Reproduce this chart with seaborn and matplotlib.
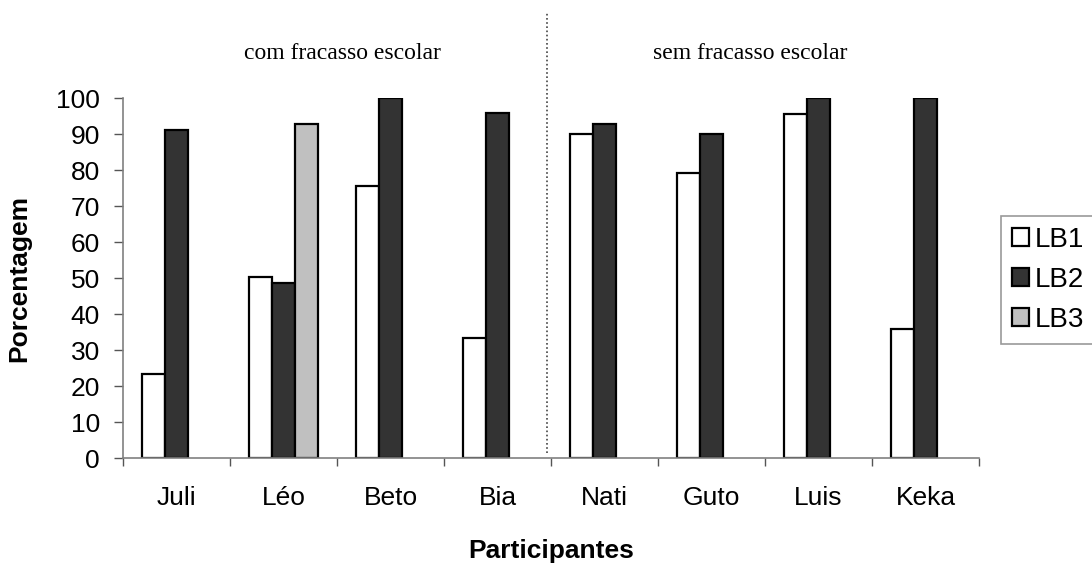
import numpy as np
import pandas as pd
import matplotlib
matplotlib.use("Agg")
import matplotlib.pyplot as plt
from matplotlib.patches import Patch
import seaborn as sns

participants = ["Juli", "Léo", "Beto", "Bia", "Nati", "Guto", "Luis", "Keka"]
lb1 = [23.3, 50.4, 75.7, 33.3, 90.0, 79.1, 95.7, 35.9]
lb2 = [91.3, 48.7, 100.0, 96.0, 92.8, 90.0, 100.0, 100.0]
lb3 = [np.nan, 92.8, np.nan, np.nan, np.nan, np.nan, np.nan, np.nan]
series_names = ["LB1", "LB2", "LB3"]
series_colors = ["#FFFFFF", "#333333", "#C0C0C0"]
group_labels = ["com fracasso escolar", "sem fracasso escolar"]
y_ticks = list(range(0, 101, 10))

rows = []
for name, vals in zip(series_names, [lb1, lb2, lb3]):
    for p, v in zip(participants, vals):
        rows.append({"Participante": p, "Serie": name, "Valor": v})
df = pd.DataFrame(rows)

sns.set_theme(style="white")
plt.rcParams["font.family"] = ["Liberation Sans", "DejaVu Sans"]
plt.rcParams["text.color"] = "black"
plt.rcParams["axes.labelcolor"] = "black"
plt.rcParams["xtick.color"] = "black"
plt.rcParams["ytick.color"] = "black"

fig = plt.figure(figsize=(10.92, 5.65), dpi=100)
ax = fig.add_axes([123/1092, 1-458/565, (979-123)/1092, (458-98.3)/565])

sns.barplot(data=df, x="Participante", y="Valor", hue="Serie",
            order=participants, hue_order=series_names,
            palette=series_colors, width=0.654, edgecolor="black",
            linewidth=1.6, ax=ax, legend=False, saturation=1, errorbar=None)

ax.set_xlim(-0.5, len(participants) - 0.5)
ax.set_ylim(0, 100)
ax.set_yticks(y_ticks)
ax.tick_params(axis="y", labelsize=19, length=6.5, width=1, color="#555555",
               labelcolor="black", pad=10, left=True, direction="out")
ax.set_xticks(range(len(participants)))
ax.set_xticklabels(participants)
ax.tick_params(axis="x", which="major", labelsize=19, length=0, pad=20,
               labelcolor="black")
ax.set_xticks(np.arange(-0.5, len(participants), 1.0), minor=True)
ax.tick_params(axis="x", which="minor", length=6, width=1, color="#555555",
               bottom=True, direction="out")

for s in ["top", "right"]:
    ax.spines[s].set_visible(False)
for s in ["left", "bottom"]:
    ax.spines[s].set_color("#808080")
    ax.spines[s].set_linewidth(1.2)

ax.set_ylabel("Porcentagem", fontsize=19, fontweight="bold", labelpad=18,
              color="black")
ax.set_xlabel("Participantes", fontsize=19, fontweight="bold", labelpad=21,
              color="black")

# group separator and labels
ax.vlines(3.46, 1.5, 124, colors="#444444", linestyles=(0, (1, 1.5)),
          linewidth=1.2, clip_on=False)
ax.text(1.55, 112.5, group_labels[0], ha="center", va="center",
        fontsize=17, family="Liberation Serif", color="black", clip_on=False)
ax.text(5.36, 112.5, group_labels[1], ha="center", va="center",
        fontsize=17, family="Liberation Serif", color="black", clip_on=False)

handles = [Patch(facecolor=c, edgecolor="black", linewidth=1.6, label=n)
           for n, c in zip(series_names, series_colors)]
leg = fig.legend(handles=handles, loc="upper left",
                 bbox_to_anchor=(1001/1092, 1-216/565), fontsize=20,
                 frameon=True, fancybox=False, handlelength=0.6,
                 handleheight=0.6, handletextpad=0.2, borderpad=0.4,
                 labelspacing=0.5, borderaxespad=0)
leg.get_frame().set_edgecolor("#808080")
leg.get_frame().set_linewidth(1.2)
for t in leg.get_texts():
    t.set_color("black")

fig.savefig("out.png", dpi=100)
